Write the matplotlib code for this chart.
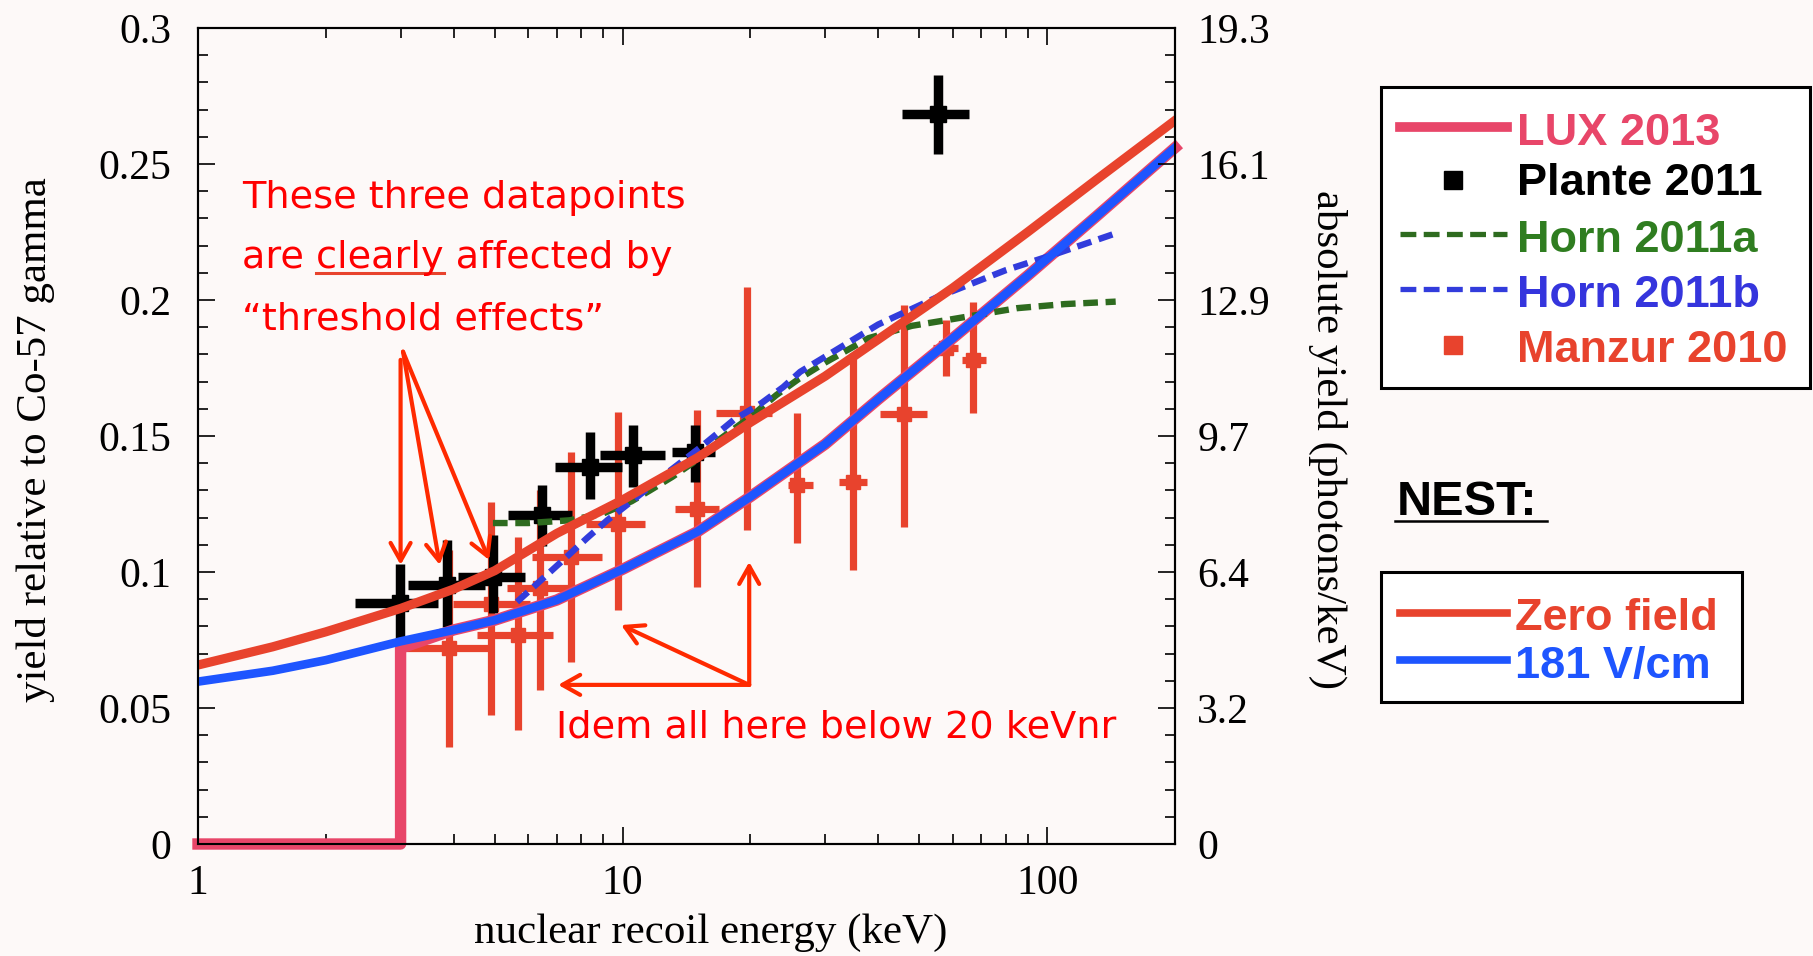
import numpy as np
import matplotlib.pyplot as plt
from matplotlib.lines import Line2D
from matplotlib.patches import Rectangle
from matplotlib.ticker import LogLocator, NullFormatter

W, H = 1813, 956
BG = '#fdf9f8'

# NEST curves (yield relative to Co-57 gamma)
nest_e = [1, 1.5, 2, 3, 4, 5, 7, 10, 15, 20, 30, 40, 60, 90, 130, 200]
nest_zero = [0.0658, 0.0725, 0.078, 0.0866, 0.0937, 0.1005, 0.1142, 0.1265,
             0.142, 0.155, 0.172, 0.1855, 0.2045, 0.225, 0.244, 0.266]
nest_181 = [0.0597, 0.0637, 0.0676, 0.0745, 0.0787, 0.0823, 0.0897, 0.101,
            0.1148, 0.1277, 0.147, 0.1635, 0.186, 0.209, 0.2305, 0.256]

# LUX 2013: zero below 3 keV, then follows NEST 181 V/cm
lux_e = [1, 3, 3] + nest_e[4:]
lux_y = [0, 0, 0.072] + nest_181[4:]

# Horn 2011a / 2011b
horn_a_e = [4.95, 6, 7.5, 9, 10.5, 11.6, 13.1, 14.6, 17, 20, 23, 26, 30, 38, 48, 60, 85, 110, 145]
horn_a_y = [0.118, 0.118, 0.119, 0.1215, 0.126, 0.130, 0.135, 0.140, 0.149, 0.157,
            0.165, 0.171, 0.177, 0.186, 0.1905, 0.193, 0.197, 0.1985, 0.1994]
horn_b_e = [5.64, 6.5, 7.2, 8.25, 9.2, 10.6, 12.7, 15.3, 18.3, 21.2, 23.9, 26.2,
            40, 55, 80, 105, 145]
horn_b_y = [0.089, 0.0977, 0.104, 0.1125, 0.119, 0.1265, 0.1363, 0.146, 0.156,
            0.162, 0.168, 0.1736, 0.191, 0.201, 0.211, 0.217, 0.2245]

# Plante 2011
plante_e = [2.99, 3.86, 4.96, 6.47, 8.38, 10.6, 14.8, 55.3]
plante_y = [0.0885, 0.0952, 0.0983, 0.121, 0.1387, 0.143, 0.1442, 0.2683]
plante_elo = [2.34, 3.12, 4.09, 5.37, 6.93, 8.85, 13.1, 45.5]
plante_ehi = [3.67, 4.74, 5.89, 7.59, 9.95, 12.6, 16.5, 65.5]
plante_ylo = [0.075, 0.0799, 0.085, 0.1096, 0.1268, 0.1314, 0.1332, 0.2536]
plante_yhi = [0.103, 0.1118, 0.1136, 0.132, 0.1516, 0.154, 0.154, 0.2827]

# Manzur 2010
manzur_e = [3.91, 4.9, 5.68, 6.38, 7.55, 9.78, 15.0, 19.6, 25.8, 34.9, 46.1, 57.7, 67.0]
manzur_y = [0.0719, 0.0884, 0.0768, 0.094, 0.1055, 0.1176, 0.123, 0.1583, 0.132,
            0.1332, 0.1581, 0.1822, 0.178]
manzur_elo = [3.02, 3.98, 4.53, 5.33, 6.13, 8.2, 13.3, 16.6, 24.5, 32.4, 40.4, 53.9, 62.9]
manzur_ehi = [4.95, 6.04, 6.87, 8.07, 8.94, 11.3, 16.9, 22.5, 28.1, 37.6, 52.1, 61.5, 71.7]
manzur_ylo = [0.0358, 0.0474, 0.0419, 0.0566, 0.067, 0.086, 0.0946, 0.1154, 0.1105,
              0.1007, 0.1166, 0.172, 0.1586]
manzur_yhi = [0.108, 0.1258, 0.113, 0.130, 0.1442, 0.1589, 0.1596, 0.2048, 0.1583,
              0.1805, 0.1982, 0.1926, 0.1994]

left_ticks = [0, 0.05, 0.1, 0.15, 0.2, 0.25, 0.3]
left_labels = ['0', '0.05', '0.1', '0.15', '0.2', '0.25', '0.3']
right_labels = ['0', '3.2', '6.4', '9.7', '12.9', '16.1', '19.3']
x_ticks = [1, 10, 100]
x_labels = ['1', '10', '100']

RED = '#e8432d'
BLUE = '#1e55ff'
PINK = '#e84669'
GREEN = '#2e6b1f'
DBLUE = '#323cdc'
ANN = '#ff0000'
ARR = '#ff2a00'

plt.rcParams['font.family'] = 'Liberation Serif'

fig = plt.figure(figsize=(W / 100, H / 100), dpi=100, facecolor=BG)
ax = fig.add_axes([198 / W, 1 - 844 / H, 977 / W, 816 / H])
ax.set_facecolor(BG)


def fx(px):
    return px / W


def fy(py):
    return 1 - py / H


def err(c, lo, hi):
    c = np.array(c)
    return [c - np.array(lo), np.array(hi) - c]


ax.errorbar(manzur_e, manzur_y, xerr=err(manzur_e, manzur_elo, manzur_ehi),
            yerr=err(manzur_y, manzur_ylo, manzur_yhi), fmt='s', ms=10,
            color=RED, elinewidth=5.2, capsize=0, zorder=2)
ax.errorbar(plante_e, plante_y, xerr=err(plante_e, plante_elo, plante_ehi),
            yerr=err(plante_y, plante_ylo, plante_yhi), fmt='s', ms=11,
            color='black', elinewidth=6.8, capsize=0, zorder=3)

ax.plot(lux_e, lux_y, color=PINK, lw=8.2, zorder=4, clip_on=False)
ax.plot(horn_a_e, horn_a_y, color=GREEN, lw=4.6, dashes=(2.3, 1.2), zorder=5)
ax.plot(horn_b_e, horn_b_y, color=DBLUE, lw=4.6, dashes=(2.3, 1.2), zorder=6)
ax.plot(nest_e, nest_181, color=BLUE, lw=6.2, zorder=7, solid_joinstyle='round')
ax.plot(nest_e, nest_zero, color=RED, lw=6.6, zorder=8, solid_joinstyle='round')

ax.set_xscale('log')
ax.set_xlim(1, 200)
ax.set_ylim(0, 0.3)
ax.set_xticks(x_ticks, labels=x_labels)
ax.xaxis.set_minor_locator(LogLocator(base=10, subs=np.arange(2, 10)))
ax.xaxis.set_minor_formatter(NullFormatter())
ax.set_yticks(left_ticks, labels=left_labels)
ax.set_yticks(np.arange(0, 0.301, 0.01), minor=True)
ax.tick_params(which='both', direction='in', top=True, width=1.2, labelsize=30)
ax.tick_params(which='major', length=12)
ax.tick_params(which='minor', length=7)
ax.tick_params(axis='y', pad=19)
ax.tick_params(axis='x', pad=15)
for s in ax.spines.values():
    s.set_linewidth(1.5)

ax2 = ax.twinx()
ax2.set_ylim(0, 19.3)
ax2.set_yticks(np.linspace(0, 19.3, 7), labels=right_labels)
ax2.set_yticks(np.linspace(0, 19.3, 31), minor=True)
ax2.tick_params(which='both', direction='in', width=1.2, labelsize=30, pad=16)
ax2.tick_params(which='major', length=12)
ax2.tick_params(which='minor', length=7)
for s in ax2.spines.values():
    s.set_linewidth(1.5)

ax.set_xlabel('nuclear recoil energy (keV)', fontsize=31)
ax.xaxis.set_label_coords(0.525, -0.109)
ax.xaxis.label.set_va('center')
ax.set_ylabel('yield relative to Co-57 gamma', fontsize=31)
ax.yaxis.set_label_coords(-0.166, 0.496)
ax.yaxis.label.set_va('center')
ax2.set_ylabel('absolute yield (photons/keV)', fontsize=31, rotation=270)
ax2.yaxis.set_label_coords(1.1556, 0.496)
ax2.yaxis.label.set_va('center')
ax2.yaxis.label.set_ha('center')

# annotations
afont = dict(family='DejaVu Sans', fontsize=27.5, color=ANN)
fig.text(fx(242), fy(208), 'These three datapoints', va='baseline', **afont)
fig.text(fx(242), fy(268), 'are clearly affected by', va='baseline', **afont)
fig.text(fx(242), fy(330), '\u201cthreshold effects\u201d', va='baseline', **afont)
fig.text(fx(556), fy(737), 'Idem all here below 20 keVnr', va='baseline', **afont)

fig.canvas.draw()
rend = fig.canvas.get_renderer()


def text_w(s):
    t = fig.text(0, 0, s, **afont)
    w = t.get_window_extent(rend).width
    t.remove()
    return w


u1 = 242 + text_w('are clearly')
u0 = u1 - text_w('clearly')
fig.add_artist(Line2D([fx(u0), fx(u1)], [fy(273), fy(273)], color=RED, lw=2.2))

astyle = dict(arrowstyle='->,head_length=0.8,head_width=0.45', color=ARR, lw=3,
              mutation_scale=16, shrinkA=0, shrinkB=0)
for (sx, sy), (tx, ty) in [((3.0, 0.178), (3.0, 0.1026)),
                           ((3.04, 0.181), (3.71, 0.1026)),
                           ((3.04, 0.181), (4.85, 0.1044))]:
    ax.annotate('', xy=(tx, ty), xytext=(sx, sy), arrowprops=astyle, zorder=10)
for tx, ty in [(19.87, 0.1037), (7.05, 0.0585), (9.92, 0.0805)]:
    ax.annotate('', xy=(tx, ty), xytext=(19.87, 0.0585), arrowprops=astyle, zorder=10)

# legend boxes drawn by hand
fig.add_artist(Rectangle((fx(1381), fy(388)), fx(1810) - fx(1381), fy(87) - fy(388),
                         transform=fig.transFigure, facecolor='white',
                         edgecolor='black', lw=2.2))
fig.add_artist(Rectangle((fx(1381), fy(702)), fx(1742) - fx(1381), fy(572) - fy(702),
                         transform=fig.transFigure, facecolor='white',
                         edgecolor='black', lw=2.2))

lfont = dict(family='Liberation Sans', fontweight='bold', fontsize=32.5, va='baseline')
leg1_labels = ['LUX 2013', 'Plante 2011', 'Horn 2011a', 'Horn 2011b', 'Manzur 2010']
leg1_colors = [PINK, 'black', '#2f7d20', '#3535dd', RED]
leg1_base = [145, 195, 252, 307, 362]
leg1_mid = [127, 180, 234, 289, 345]
for lab, col, b in zip(leg1_labels, leg1_colors, leg1_base):
    fig.text(fx(1517), fy(b), lab, color=col, **lfont)
fig.add_artist(Line2D([fx(1400), fx(1507)], [fy(leg1_mid[0])] * 2, color=PINK, lw=7))
fig.add_artist(Line2D([fx(1453)], [fy(leg1_mid[1])], marker='s', ms=13, color='black'))
fig.add_artist(Line2D([fx(1400), fx(1507)], [fy(leg1_mid[2])] * 2, color=GREEN, lw=3.8,
                      dashes=(3, 1.4)))
fig.add_artist(Line2D([fx(1400), fx(1507)], [fy(leg1_mid[3])] * 2, color=DBLUE, lw=3.8,
                      dashes=(3, 1.4)))
fig.add_artist(Line2D([fx(1453)], [fy(leg1_mid[4])], marker='s', ms=13, color=RED))

fig.text(fx(1397), fy(515), 'NEST:', color='black', family='Liberation Sans',
         fontweight='bold', fontsize=35, va='baseline')
fig.add_artist(Line2D([fx(1395), fx(1547)], [fy(521)] * 2, color='black', lw=1.8))

leg2_labels = ['Zero field', '181 V/cm']
leg2_colors = [RED, BLUE]
leg2_base = [630, 678]
leg2_mid = [613, 660]
for lab, col, b, m in zip(leg2_labels, leg2_colors, leg2_base, leg2_mid):
    fig.text(fx(1515), fy(b), lab, color=col, **lfont)
    fig.add_artist(Line2D([fx(1400), fx(1507)], [fy(m)] * 2, color=col, lw=5.5))

fig.savefig('out.png', dpi=100, facecolor=BG)
